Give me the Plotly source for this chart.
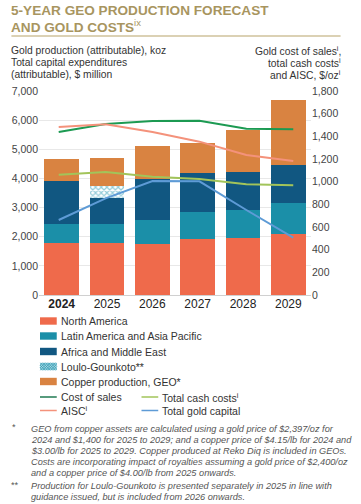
import plotly.graph_objects as go

# ---------------- data ----------------
years = ["2024", "2025", "2026", "2027", "2028", "2029"]
year_labels = ["<b>2024</b>", "2025", "2026", "2027", "2028", "2029"]
year_index = [0, 1, 2, 3, 4, 5]

north_america = [1780, 1780, 1760, 1920, 1970, 2090]
latin_america_apac = [650, 650, 810, 930, 940, 1060]
africa_middle_east = [1480, 910, 1410, 1330, 1310, 1310]
loulo_gounkoto = [0, 400, 0, 0, 0, 0]
copper_geo = [750, 960, 1130, 1030, 1450, 2230]

cost_of_sales = [1438, 1509, 1535, 1538, 1468, 1462]
aisc = [1482, 1506, 1438, 1353, 1235, 1182]
total_cash_costs = [1062, 1085, 1044, 1024, 977, 968]
total_gold_capital = [662, 853, 1006, 1003, 750, 506]

left_ticks = [0, 1000, 2000, 3000, 4000, 5000, 6000, 7000]
right_ticks = [0, 200, 400, 600, 800, 1000, 1200, 1400, 1600, 1800]

title_lines = ["<b>5-YEAR GEO PRODUCTION FORECAST</b>", "<b>AND GOLD COSTS</b><sup>ix</sup>"]
note1_lines = [
    "GEO from copper assets are calculated using a gold price of $2,397/oz for",
    "2024 and $1,400 for 2025 to 2029; and a copper price of $4.15/lb for 2024 and",
    "$3.00/lb for 2025 to 2029. Copper produced at Reko Diq is included in GEOs.",
    "Costs are incorporating impact of royalties assuming a gold price of $2,400/oz",
    "and a copper price of $4.00/lb from 2025 onwards.",
]
note2_lines = [
    "Production for Loulo-Gounkoto is presented separately in 2025 in line with",
    "guidance issued, but is included from 2026 onwards.",
]

# ---------------- styles ----------------
C_NA = "#EF6A4B"
C_LA = "#1B8FA8"
C_AF = "#115781"
C_LG = "#2A9AB3"
C_CU = "#D98341"
C_COS = "#1C9A52"
C_COS_LEG = "#1F7A52"
C_AISC = "#F4927B"
C_TCC = "#A2C45A"
C_TGC = "#5E9BD6"
GOLD = "#A8955F"
TXT = "#333333"
FONT = "Liberation Sans"

W, H = 361, 504
PL, PR, PT, PB = 35, 311, 91, 295


def px(x):
    return (x - PL) / (PR - PL)


def py(y):
    return (PB - y) / (PB - PT)


fig = go.Figure()

bar_series = [
    ("North America", north_america, C_NA, None),
    ("Latin America and Asia Pacific", latin_america_apac, C_LA, None),
    ("Africa and Middle East", africa_middle_east, C_AF, None),
    ("Loulo-Gounkoto**", loulo_gounkoto, C_LG, "x"),
    ("Copper production, GEO*", copper_geo, C_CU, None),
]
for name, vals, col, pat in bar_series:
    marker = dict(color=col, line=dict(width=0))
    if pat:
        marker = dict(color="white", line=dict(width=0),
                      pattern=dict(shape=pat, fgcolor=col, bgcolor="white",
                                   size=4, solidity=0.5))
    fig.add_trace(go.Bar(x=years, y=vals, name=name, marker=marker,
                         showlegend=False, hoverinfo="skip"))

line_series = [
    ("Cost of sales", cost_of_sales, C_COS),
    ("AISC", aisc, C_AISC),
    ("Total cash costs", total_cash_costs, C_TCC),
    ("Total gold capital", total_gold_capital, C_TGC),
]
for name, vals, col in line_series:
    fig.add_trace(go.Scatter(x=year_index, y=vals, name=name, xaxis="x2", yaxis="y2",
                             mode="lines", line=dict(color=col, width=2),
                             showlegend=False, hoverinfo="skip"))

annotations = []
shapes = []

# title
for i, t in enumerate(title_lines):
    annotations.append(dict(
        text=t, x=px(6), y=py(10.8 + 15 * i), xref="paper", yref="paper",
        xanchor="left", yanchor="middle", align="left", showarrow=False, borderpad=0,
        font=dict(family=FONT, size=13.6, color=GOLD)))
shapes.append(dict(type="line", xref="paper", yref="paper",
                   x0=px(7), x1=px(341), y0=py(36), y1=py(36),
                   line=dict(color="#CFC29B", width=1.5)))

# axis headers
left_hdr = ["Gold production (attributable), koz", "Total capital expenditures",
            "(attributable), $ million"]
for i, t in enumerate(left_hdr):
    annotations.append(dict(text=t, x=px(6), y=py(50 + 12 * i), xref="paper", yref="paper",
                            xanchor="left", yanchor="middle", showarrow=False, borderpad=0,
                            font=dict(family=FONT, size=10.3, color=TXT)))
right_hdr = ["Gold cost of sales<sup>i</sup>,", "total cash costs<sup>i</sup>",
             "and AISC, $/oz<sup>i</sup>"]
for i, t in enumerate(right_hdr):
    annotations.append(dict(text=t, x=px(342), y=py(50 + 12 * i), xref="paper", yref="paper",
                            xanchor="right", yanchor="middle", showarrow=False, borderpad=0,
                            font=dict(family=FONT, size=10.3, color=TXT)))

# custom legend
rows = [321, 336, 351.5, 366.5, 381.5]
for (name, vals, col, pat), ry in zip(bar_series, rows):
    if pat is None:
        shapes.append(dict(type="rect", xref="paper", yref="paper",
                           x0=px(36), x1=px(53), y0=py(ry - 3.7), y1=py(ry + 3.7),
                           fillcolor=col, line=dict(width=0)))
    else:
        shapes.append(dict(type="rect", xref="paper", yref="paper",
                           x0=px(36), x1=px(53), y0=py(ry - 3.7), y1=py(ry + 3.7),
                           fillcolor="#A9D6E0", line=dict(width=0)))
        x0, x1, y0, y1 = 36, 53, ry - 3.7, ry + 3.7
        segs = []
        c = x0 - (y1 - y0)
        while c < x1:
            xa, ya = c, y0
            xb, yb = c + (y1 - y0), y1
            if xa < x0:
                ya = ya + (x0 - xa); xa = x0
            if xb > x1:
                yb = yb - (xb - x1); xb = x1
            if xa < xb:
                segs.append(f"M{px(xa)},{py(ya)}L{px(xb)},{py(yb)}")
            xa, ya = c, y1
            xb, yb = c + (y1 - y0), y0
            if xa < x0:
                ya = ya - (x0 - xa); xa = x0
            if xb > x1:
                yb = yb + (xb - x1); xb = x1
            if xa < xb:
                segs.append(f"M{px(xa)},{py(ya)}L{px(xb)},{py(yb)}")
            c += 2.6
        shapes.append(dict(type="path", xref="paper", yref="paper", path="".join(segs),
                           line=dict(color=C_LG, width=0.7)))
    annotations.append(dict(text=name, x=px(56), y=py(ry), xref="paper", yref="paper",
                            xanchor="left", yanchor="middle", showarrow=False, borderpad=0,
                            font=dict(family=FONT, size=10.5, color=TXT)))

line_leg = [
    ("Cost of sales", C_COS_LEG, 36, 397),
    ("Total cash costs<sup>i</sup>", C_TCC, 139, 397),
    ("AISC<sup>i</sup>", C_AISC, 36, 410.5),
    ("Total gold capital", C_TGC, 139, 410.5),
]
for name, col, lx, ry in line_leg:
    shapes.append(dict(type="line", xref="paper", yref="paper",
                       x0=px(lx), x1=px(lx + 17), y0=py(ry), y1=py(ry),
                       line=dict(color=col, width=1.5)))
    annotations.append(dict(text=name, x=px(lx + 20), y=py(ry), xref="paper", yref="paper",
                            xanchor="left", yanchor="middle", showarrow=False, borderpad=0,
                            font=dict(family=FONT, size=10.5, color=TXT)))

# footnotes
NFONT = dict(family=FONT, size=9.2, color="#555555")
for i, t in enumerate(note1_lines):
    annotations.append(dict(text="<i>" + t + "</i>", x=px(26), y=py(428.5 + 11.1 * i),
                            xref="paper", yref="paper", xanchor="left", yanchor="middle",
                            showarrow=False, borderpad=0, font=NFONT))
for i, t in enumerate(note2_lines):
    annotations.append(dict(text="<i>" + t + "</i>", x=px(26), y=py(485.5 + 11.1 * i),
                            xref="paper", yref="paper", xanchor="left", yanchor="middle",
                            showarrow=False, borderpad=0, font=NFONT))
annotations.append(dict(text="*", x=px(7), y=py(427), xref="paper", yref="paper",
                        xanchor="left", yanchor="middle", showarrow=False, borderpad=0,
                        font=NFONT))
annotations.append(dict(text="**", x=px(6), y=py(485), xref="paper", yref="paper",
                        xanchor="left", yanchor="middle", showarrow=False, borderpad=0,
                        font=NFONT))

# line x-axis: lines run slightly wider than bar centres (55px .. 293px)
L0, L5 = 55, 293
span = 5 * (PR - PL) / (L5 - L0)
x2_lo = -(L0 - PL) / (PR - PL) * span

fig.update_layout(
    width=W, height=H, autosize=False,
    margin=dict(l=PL, r=W - PR, t=PT, b=H - PB, pad=0),
    paper_bgcolor="white", plot_bgcolor="white",
    barmode="stack", bargap=0.24,
    showlegend=False,
    font=dict(family=FONT, size=10.5, color=TXT),
    xaxis=dict(type="category", tickvals=years, ticktext=year_labels,
               tickfont=dict(size=12, color="#222222"), showgrid=False,
               ticks="", showline=False, zeroline=False),
    xaxis2=dict(overlaying="x", range=[x2_lo, x2_lo + span], visible=False),
    yaxis=dict(range=[0, 7000], tickvals=left_ticks, tickformat=",",
               tickfont=dict(size=10.5, color="#444444"),
               showgrid=True, gridcolor="#E8E8E8", gridwidth=1,
               zeroline=True, zerolinecolor="#D0D0D0", zerolinewidth=1,
               showline=False, ticks=""),
    yaxis2=dict(range=[0, 1800], tickvals=right_ticks, tickformat=",",
                overlaying="y", side="right",
                tickfont=dict(size=10.5, color="#444444"),
                showgrid=False, zeroline=False, showline=False, ticks=""),
    annotations=annotations,
    shapes=shapes,
)

fig.write_html("out.html", config={"displayModeBar": False},
               post_script="document.body.style.margin='0';")
